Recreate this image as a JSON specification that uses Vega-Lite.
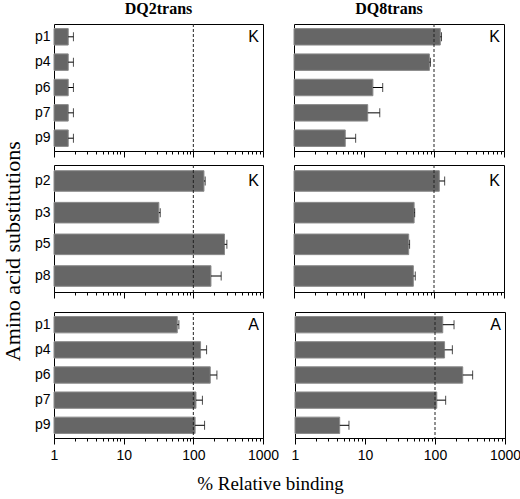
{
  "$schema": "https://vega.github.io/schema/vega-lite/v6.json",
  "padding": {"left": 1, "top": 0, "right": 0, "bottom": 2},
  "background": "white",
  "title": {"text": "% Relative binding", "orient": "bottom", "anchor": "middle", "font": "Liberation Serif", "fontSize": 19, "fontWeight": "normal", "color": "black", "offset": 12, "dx": 9},
  "config": {
    "view": {"stroke": "black", "strokeWidth": 1},
    "axis": {"domainColor": "black", "tickColor": "black", "labelColor": "black", "grid": false, "labelFont": "Liberation Sans", "labelFontSize": 14}
  },
  "datasets": {
    "bars": [
      {"g": "DQ2trans", "r": 1, "pos": "p1", "v": 1.6, "e": 1.9},
      {"g": "DQ2trans", "r": 1, "pos": "p4", "v": 1.6, "e": 1.9},
      {"g": "DQ2trans", "r": 1, "pos": "p6", "v": 1.6, "e": 1.9},
      {"g": "DQ2trans", "r": 1, "pos": "p7", "v": 1.6, "e": 1.9},
      {"g": "DQ2trans", "r": 1, "pos": "p9", "v": 1.6, "e": 1.9},
      {"g": "DQ8trans", "r": 1, "pos": "p1", "v": 123, "e": 128},
      {"g": "DQ8trans", "r": 1, "pos": "p4", "v": 86, "e": 89},
      {"g": "DQ8trans", "r": 1, "pos": "p6", "v": 13.4, "e": 18.5},
      {"g": "DQ8trans", "r": 1, "pos": "p7", "v": 11.3, "e": 16.8},
      {"g": "DQ8trans", "r": 1, "pos": "p9", "v": 5.4, "e": 7.6},
      {"g": "DQ2trans", "r": 2, "pos": "p2", "v": 142, "e": 148},
      {"g": "DQ2trans", "r": 2, "pos": "p3", "v": 32, "e": 33.5},
      {"g": "DQ2trans", "r": 2, "pos": "p5", "v": 280, "e": 303},
      {"g": "DQ2trans", "r": 2, "pos": "p8", "v": 179, "e": 251},
      {"g": "DQ8trans", "r": 2, "pos": "p2", "v": 119, "e": 142},
      {"g": "DQ8trans", "r": 2, "pos": "p3", "v": 52, "e": 53},
      {"g": "DQ8trans", "r": 2, "pos": "p5", "v": 43.5, "e": 44.8},
      {"g": "DQ8trans", "r": 2, "pos": "p8", "v": 50.7, "e": 54},
      {"g": "DQ2trans", "r": 3, "pos": "p1", "v": 58.8, "e": 62},
      {"g": "DQ2trans", "r": 3, "pos": "p4", "v": 127, "e": 155},
      {"g": "DQ2trans", "r": 3, "pos": "p6", "v": 175, "e": 218},
      {"g": "DQ2trans", "r": 3, "pos": "p7", "v": 109, "e": 135},
      {"g": "DQ2trans", "r": 3, "pos": "p9", "v": 106, "e": 145},
      {"g": "DQ8trans", "r": 3, "pos": "p1", "v": 129, "e": 187},
      {"g": "DQ8trans", "r": 3, "pos": "p4", "v": 137, "e": 177},
      {"g": "DQ8trans", "r": 3, "pos": "p6", "v": 249, "e": 345},
      {"g": "DQ8trans", "r": 3, "pos": "p7", "v": 106, "e": 142},
      {"g": "DQ8trans", "r": 3, "pos": "p9", "v": 4.35, "e": 5.9}
    ],
    "panels": [
      {"g": "DQ2trans", "r": 1, "lab": "K", "pos": "p1", "ref": 100, "xr": 1000},
      {"g": "DQ8trans", "r": 1, "lab": "K", "pos": "p1", "ref": 100, "xr": 1000},
      {"g": "DQ2trans", "r": 2, "lab": "K", "pos": "p2", "ref": 100, "xr": 1000},
      {"g": "DQ8trans", "r": 2, "lab": "K", "pos": "p2", "ref": 100, "xr": 1000},
      {"g": "DQ2trans", "r": 3, "lab": "A", "pos": "p1", "ref": 100, "xr": 1000},
      {"g": "DQ8trans", "r": 3, "lab": "A", "pos": "p1", "ref": 100, "xr": 1000}
    ]
  },
  "vconcat": [
    {
      "title": {"text": "Amino acid substitutions", "orient": "left", "anchor": "middle", "font": "Liberation Serif", "fontSize": 22, "fontWeight": "normal", "color": "black", "offset": 9, "dx": -20},
      "spacing": 6,
      "vconcat": [
        {
          "hconcat": [
            {
              "width": 209, "height": 127,
              "view": {"stroke": "black", "strokeWidth": 1},
              "title": {"text": "DQ2trans", "font": "Liberation Serif", "fontSize": 16, "fontWeight": "bold", "color": "black", "offset": 7, "anchor": "middle"},
              "layer": [
                {"data": {"name": "bars"}, "transform": [{"filter": "datum.g === 'DQ2trans' && datum.r === 1"}],
                 "mark": {"type": "bar", "fill": "#666666", "stroke": "#8a8a8a", "strokeWidth": 1},
                 "encoding": {
                   "y": {"field": "pos", "type": "nominal", "scale": {"domain": ["p1","p4","p6","p7","p9"], "paddingInner": 0.35, "paddingOuter": 0.18}, "axis": {"title": null, "ticks": false, "domain": false, "labelPadding": 4}},
                   "x": {"field": "v", "type": "quantitative", "scale": {"type": "log", "domain": [1, 1000]}, "axis": {"values": [1,10,100,1000], "tickSize": 6, "labels": false, "title": null}},
                   "x2": {"datum": 1}}},
                {"data": {"name": "bars"}, "transform": [{"filter": "datum.g === 'DQ2trans' && datum.r === 1"}],
                 "mark": {"type": "rule", "color": "black", "strokeWidth": 1},
                 "encoding": {"y": {"field": "pos", "type": "nominal"},
                   "x": {"field": "v", "type": "quantitative", "axis": {"values": [2,3,4,5,6,7,8,9,20,30,40,50,60,70,80,90,200,300,400,500,600,700,800,900], "tickSize": 3, "labels": false, "domain": false, "title": null, "orient": "bottom"}},
                   "x2": {"field": "e"}}},
                {"data": {"name": "bars"}, "transform": [{"filter": "datum.g === 'DQ2trans' && datum.r === 1"}],
                 "mark": {"type": "tick", "color": "black", "thickness": 1, "size": 9, "orient": "vertical"},
                 "encoding": {"y": {"field": "pos", "type": "nominal"}, "x": {"field": "e", "type": "quantitative", "axis": null}}},
                {"data": {"name": "panels"}, "transform": [{"filter": "datum.g === 'DQ2trans' && datum.r === 1"}],
                 "mark": {"type": "rule", "color": "#222222", "strokeDash": [3, 2], "strokeWidth": 1},
                 "encoding": {"x": {"field": "ref", "type": "quantitative", "axis": null}}},
                {"data": {"name": "panels"}, "transform": [{"filter": "datum.g === 'DQ2trans' && datum.r === 1"}],
                 "mark": {"type": "text", "align": "right", "baseline": "middle", "dx": -4, "font": "Liberation Sans", "fontSize": 16, "color": "black"},
                 "encoding": {"x": {"field": "xr", "type": "quantitative", "axis": null}, "y": {"field": "pos", "type": "nominal"}, "text": {"field": "lab"}}}
              ],
              "resolve": {"axis": {"x": "independent"}}
            },
            {
              "width": 210, "height": 127,
              "view": {"stroke": "black", "strokeWidth": 1},
              "title": {"text": "DQ8trans", "font": "Liberation Serif", "fontSize": 16, "fontWeight": "bold", "color": "black", "offset": 7, "anchor": "middle", "dx": -10},
              "layer": [
                {"data": {"name": "bars"}, "transform": [{"filter": "datum.g === 'DQ8trans' && datum.r === 1"}],
                 "mark": {"type": "bar", "fill": "#666666", "stroke": "#8a8a8a", "strokeWidth": 1},
                 "encoding": {
                   "y": {"field": "pos", "type": "nominal", "scale": {"domain": ["p1","p4","p6","p7","p9"], "paddingInner": 0.35, "paddingOuter": 0.18}, "axis": null},
                   "x": {"field": "v", "type": "quantitative", "scale": {"type": "log", "domain": [1, 1000]}, "axis": {"values": [1,10,100,1000], "tickSize": 6, "labels": false, "title": null}},
                   "x2": {"datum": 1}}},
                {"data": {"name": "bars"}, "transform": [{"filter": "datum.g === 'DQ8trans' && datum.r === 1"}],
                 "mark": {"type": "rule", "color": "black", "strokeWidth": 1},
                 "encoding": {"y": {"field": "pos", "type": "nominal"},
                   "x": {"field": "v", "type": "quantitative", "axis": {"values": [2,3,4,5,6,7,8,9,20,30,40,50,60,70,80,90,200,300,400,500,600,700,800,900], "tickSize": 3, "labels": false, "domain": false, "title": null, "orient": "bottom"}},
                   "x2": {"field": "e"}}},
                {"data": {"name": "bars"}, "transform": [{"filter": "datum.g === 'DQ8trans' && datum.r === 1"}],
                 "mark": {"type": "tick", "color": "black", "thickness": 1, "size": 9, "orient": "vertical"},
                 "encoding": {"y": {"field": "pos", "type": "nominal"}, "x": {"field": "e", "type": "quantitative", "axis": null}}},
                {"data": {"name": "panels"}, "transform": [{"filter": "datum.g === 'DQ8trans' && datum.r === 1"}],
                 "mark": {"type": "rule", "color": "#222222", "strokeDash": [3, 2], "strokeWidth": 1},
                 "encoding": {"x": {"field": "ref", "type": "quantitative", "axis": null}}},
                {"data": {"name": "panels"}, "transform": [{"filter": "datum.g === 'DQ8trans' && datum.r === 1"}],
                 "mark": {"type": "text", "align": "right", "baseline": "middle", "dx": -4, "font": "Liberation Sans", "fontSize": 16, "color": "black"},
                 "encoding": {"x": {"field": "xr", "type": "quantitative", "axis": null}, "y": {"field": "pos", "type": "nominal"}, "text": {"field": "lab"}}}
              ],
              "resolve": {"axis": {"x": "independent"}}
            }
          ],
          "spacing": 29
        },
        {
          "spacing": 12,
          "vconcat": [
            {
              "hconcat": [
                {
                  "width": 209, "height": 127,
                  "view": {"stroke": "black", "strokeWidth": 1},
                  "layer": [
                    {"data": {"name": "bars"}, "transform": [{"filter": "datum.g === 'DQ2trans' && datum.r === 2"}],
                     "mark": {"type": "bar", "fill": "#666666", "stroke": "#8a8a8a", "strokeWidth": 1},
                     "encoding": {
                       "y": {"field": "pos", "type": "nominal", "scale": {"domain": ["p2","p3","p5","p8"], "paddingInner": 0.35, "paddingOuter": 0.18}, "axis": {"title": null, "ticks": false, "domain": false, "labelPadding": 4}},
                       "x": {"field": "v", "type": "quantitative", "scale": {"type": "log", "domain": [1, 1000]}, "axis": {"values": [1,10,100,1000], "tickSize": 6, "labels": false, "title": null}},
                       "x2": {"datum": 1}}},
                    {"data": {"name": "bars"}, "transform": [{"filter": "datum.g === 'DQ2trans' && datum.r === 2"}],
                     "mark": {"type": "rule", "color": "black", "strokeWidth": 1},
                     "encoding": {"y": {"field": "pos", "type": "nominal"},
                       "x": {"field": "v", "type": "quantitative", "axis": {"values": [2,3,4,5,6,7,8,9,20,30,40,50,60,70,80,90,200,300,400,500,600,700,800,900], "tickSize": 3, "labels": false, "domain": false, "title": null, "orient": "bottom"}},
                       "x2": {"field": "e"}}},
                    {"data": {"name": "bars"}, "transform": [{"filter": "datum.g === 'DQ2trans' && datum.r === 2"}],
                     "mark": {"type": "tick", "color": "black", "thickness": 1, "size": 9, "orient": "vertical"},
                     "encoding": {"y": {"field": "pos", "type": "nominal"}, "x": {"field": "e", "type": "quantitative", "axis": null}}},
                    {"data": {"name": "panels"}, "transform": [{"filter": "datum.g === 'DQ2trans' && datum.r === 2"}],
                     "mark": {"type": "rule", "color": "#222222", "strokeDash": [3, 2], "strokeWidth": 1},
                     "encoding": {"x": {"field": "ref", "type": "quantitative", "axis": null}}},
                    {"data": {"name": "panels"}, "transform": [{"filter": "datum.g === 'DQ2trans' && datum.r === 2"}],
                     "mark": {"type": "text", "align": "right", "baseline": "middle", "dx": -4, "font": "Liberation Sans", "fontSize": 16, "color": "black"},
                     "encoding": {"x": {"field": "xr", "type": "quantitative", "axis": null}, "y": {"field": "pos", "type": "nominal"}, "text": {"field": "lab"}}}
                  ],
                  "resolve": {"axis": {"x": "independent"}}
                },
                {
                  "width": 210, "height": 127,
                  "view": {"stroke": "black", "strokeWidth": 1},
                  "layer": [
                    {"data": {"name": "bars"}, "transform": [{"filter": "datum.g === 'DQ8trans' && datum.r === 2"}],
                     "mark": {"type": "bar", "fill": "#666666", "stroke": "#8a8a8a", "strokeWidth": 1},
                     "encoding": {
                       "y": {"field": "pos", "type": "nominal", "scale": {"domain": ["p2","p3","p5","p8"], "paddingInner": 0.35, "paddingOuter": 0.18}, "axis": null},
                       "x": {"field": "v", "type": "quantitative", "scale": {"type": "log", "domain": [1, 1000]}, "axis": {"values": [1,10,100,1000], "tickSize": 6, "labels": false, "title": null}},
                       "x2": {"datum": 1}}},
                    {"data": {"name": "bars"}, "transform": [{"filter": "datum.g === 'DQ8trans' && datum.r === 2"}],
                     "mark": {"type": "rule", "color": "black", "strokeWidth": 1},
                     "encoding": {"y": {"field": "pos", "type": "nominal"},
                       "x": {"field": "v", "type": "quantitative", "axis": {"values": [2,3,4,5,6,7,8,9,20,30,40,50,60,70,80,90,200,300,400,500,600,700,800,900], "tickSize": 3, "labels": false, "domain": false, "title": null, "orient": "bottom"}},
                       "x2": {"field": "e"}}},
                    {"data": {"name": "bars"}, "transform": [{"filter": "datum.g === 'DQ8trans' && datum.r === 2"}],
                     "mark": {"type": "tick", "color": "black", "thickness": 1, "size": 9, "orient": "vertical"},
                     "encoding": {"y": {"field": "pos", "type": "nominal"}, "x": {"field": "e", "type": "quantitative", "axis": null}}},
                    {"data": {"name": "panels"}, "transform": [{"filter": "datum.g === 'DQ8trans' && datum.r === 2"}],
                     "mark": {"type": "rule", "color": "#222222", "strokeDash": [3, 2], "strokeWidth": 1},
                     "encoding": {"x": {"field": "ref", "type": "quantitative", "axis": null}}},
                    {"data": {"name": "panels"}, "transform": [{"filter": "datum.g === 'DQ8trans' && datum.r === 2"}],
                     "mark": {"type": "text", "align": "right", "baseline": "middle", "dx": -4, "font": "Liberation Sans", "fontSize": 16, "color": "black"},
                     "encoding": {"x": {"field": "xr", "type": "quantitative", "axis": null}, "y": {"field": "pos", "type": "nominal"}, "text": {"field": "lab"}}}
                  ],
                  "resolve": {"axis": {"x": "independent"}}
                }
              ],
              "spacing": 29
            },
            {
              "hconcat": [
                {
                  "width": 209, "height": 126,
                  "view": {"stroke": "black", "strokeWidth": 1},
                  "layer": [
                    {"data": {"name": "bars"}, "transform": [{"filter": "datum.g === 'DQ2trans' && datum.r === 3"}],
                     "mark": {"type": "bar", "fill": "#666666", "stroke": "#8a8a8a", "strokeWidth": 1},
                     "encoding": {
                       "y": {"field": "pos", "type": "nominal", "scale": {"domain": ["p1","p4","p6","p7","p9"], "paddingInner": 0.35, "paddingOuter": 0.18}, "axis": {"title": null, "ticks": false, "domain": false, "labelPadding": 4}},
                       "x": {"field": "v", "type": "quantitative", "scale": {"type": "log", "domain": [1, 1000]}, "axis": {"values": [1,10,100,1000], "tickSize": 6, "labels": true, "format": "d", "labelFlush": false, "labelPadding": 4, "title": null}},
                       "x2": {"datum": 1}}},
                    {"data": {"name": "bars"}, "transform": [{"filter": "datum.g === 'DQ2trans' && datum.r === 3"}],
                     "mark": {"type": "rule", "color": "black", "strokeWidth": 1},
                     "encoding": {"y": {"field": "pos", "type": "nominal"},
                       "x": {"field": "v", "type": "quantitative", "axis": {"values": [2,3,4,5,6,7,8,9,20,30,40,50,60,70,80,90,200,300,400,500,600,700,800,900], "tickSize": 3, "labels": false, "domain": false, "title": null, "orient": "bottom"}},
                       "x2": {"field": "e"}}},
                    {"data": {"name": "bars"}, "transform": [{"filter": "datum.g === 'DQ2trans' && datum.r === 3"}],
                     "mark": {"type": "tick", "color": "black", "thickness": 1, "size": 9, "orient": "vertical"},
                     "encoding": {"y": {"field": "pos", "type": "nominal"}, "x": {"field": "e", "type": "quantitative", "axis": null}}},
                    {"data": {"name": "panels"}, "transform": [{"filter": "datum.g === 'DQ2trans' && datum.r === 3"}],
                     "mark": {"type": "rule", "color": "#222222", "strokeDash": [3, 2], "strokeWidth": 1},
                     "encoding": {"x": {"field": "ref", "type": "quantitative", "axis": null}}},
                    {"data": {"name": "panels"}, "transform": [{"filter": "datum.g === 'DQ2trans' && datum.r === 3"}],
                     "mark": {"type": "text", "align": "right", "baseline": "middle", "dx": -4, "font": "Liberation Sans", "fontSize": 16, "color": "black"},
                     "encoding": {"x": {"field": "xr", "type": "quantitative", "axis": null}, "y": {"field": "pos", "type": "nominal"}, "text": {"field": "lab"}}}
                  ],
                  "resolve": {"axis": {"x": "independent"}}
                },
                {
                  "width": 210, "height": 126,
                  "view": {"stroke": "black", "strokeWidth": 1},
                  "layer": [
                    {"data": {"name": "bars"}, "transform": [{"filter": "datum.g === 'DQ8trans' && datum.r === 3"}],
                     "mark": {"type": "bar", "fill": "#666666", "stroke": "#8a8a8a", "strokeWidth": 1},
                     "encoding": {
                       "y": {"field": "pos", "type": "nominal", "scale": {"domain": ["p1","p4","p6","p7","p9"], "paddingInner": 0.35, "paddingOuter": 0.18}, "axis": null},
                       "x": {"field": "v", "type": "quantitative", "scale": {"type": "log", "domain": [1, 1000]}, "axis": {"values": [1,10,100,1000], "tickSize": 6, "labels": true, "format": "d", "labelFlush": false, "labelPadding": 4, "title": null}},
                       "x2": {"datum": 1}}},
                    {"data": {"name": "bars"}, "transform": [{"filter": "datum.g === 'DQ8trans' && datum.r === 3"}],
                     "mark": {"type": "rule", "color": "black", "strokeWidth": 1},
                     "encoding": {"y": {"field": "pos", "type": "nominal"},
                       "x": {"field": "v", "type": "quantitative", "axis": {"values": [2,3,4,5,6,7,8,9,20,30,40,50,60,70,80,90,200,300,400,500,600,700,800,900], "tickSize": 3, "labels": false, "domain": false, "title": null, "orient": "bottom"}},
                       "x2": {"field": "e"}}},
                    {"data": {"name": "bars"}, "transform": [{"filter": "datum.g === 'DQ8trans' && datum.r === 3"}],
                     "mark": {"type": "tick", "color": "black", "thickness": 1, "size": 9, "orient": "vertical"},
                     "encoding": {"y": {"field": "pos", "type": "nominal"}, "x": {"field": "e", "type": "quantitative", "axis": null}}},
                    {"data": {"name": "panels"}, "transform": [{"filter": "datum.g === 'DQ8trans' && datum.r === 3"}],
                     "mark": {"type": "rule", "color": "#222222", "strokeDash": [3, 2], "strokeWidth": 1},
                     "encoding": {"x": {"field": "ref", "type": "quantitative", "axis": null}}},
                    {"data": {"name": "panels"}, "transform": [{"filter": "datum.g === 'DQ8trans' && datum.r === 3"}],
                     "mark": {"type": "text", "align": "right", "baseline": "middle", "dx": -4, "font": "Liberation Sans", "fontSize": 16, "color": "black"},
                     "encoding": {"x": {"field": "xr", "type": "quantitative", "axis": null}, "y": {"field": "pos", "type": "nominal"}, "text": {"field": "lab"}}}
                  ],
                  "resolve": {"axis": {"x": "independent"}}
                }
              ],
              "spacing": 10
            }
          ]
        }
      ]
    }
  ]
}
